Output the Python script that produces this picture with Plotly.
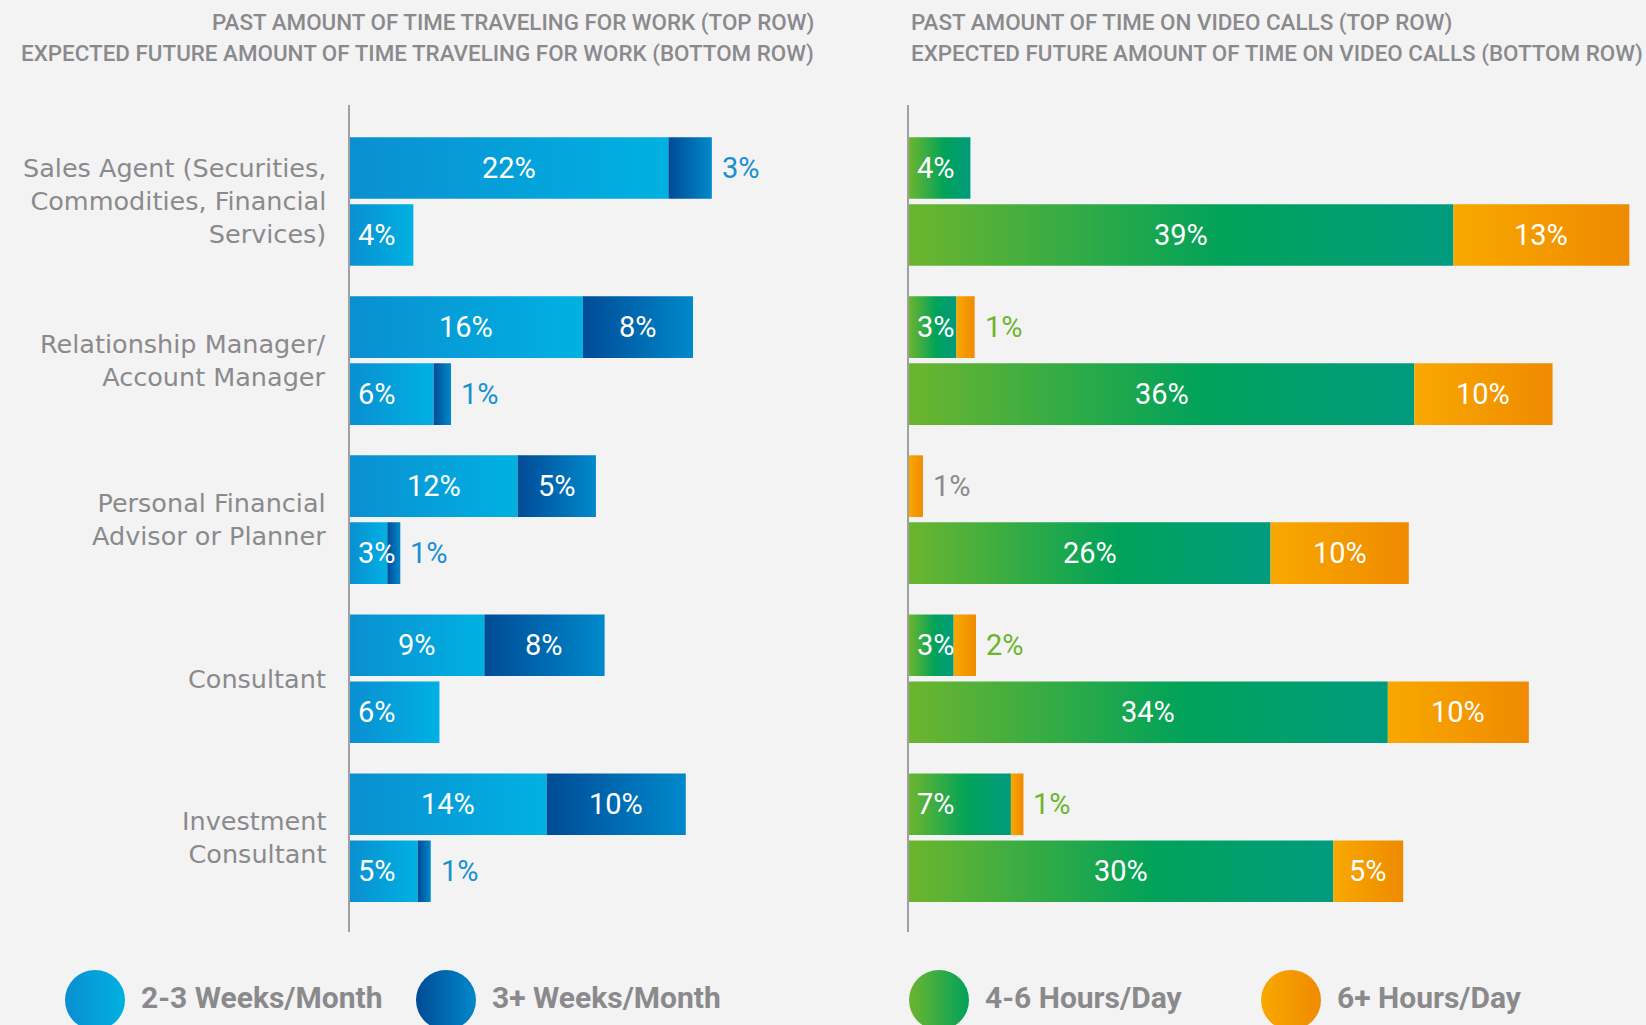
import plotly.graph_objects as go

# ---------------- data ----------------
categories = [
    "Sales Agent (Securities,<br>Commodities, Financial<br>Services)",
    "Relationship Manager/<br>Account Manager",
    "Personal Financial<br>Advisor or Planner",
    "Consultant",
    "Investment<br>Consultant",
]

left_title_lines = ["PAST AMOUNT OF TIME TRAVELING FOR WORK (TOP ROW)",
                    "EXPECTED FUTURE AMOUNT OF TIME TRAVELING FOR WORK (BOTTOM ROW)"]
right_title_lines = ["PAST AMOUNT OF TIME ON VIDEO CALLS (TOP ROW)",
                     "EXPECTED FUTURE AMOUNT OF TIME ON VIDEO CALLS (BOTTOM ROW)"]

travel_series = ["2-3 Weeks/Month", "3+ Weeks/Month"]
video_series = ["4-6 Hours/Day", "6+ Hours/Day"]

# travel for work (%), top row = past, bottom row = expected future
travel_2_3_past = [22.0, 16.1, 11.6, 9.3, 13.6]
travel_3p_past = [3.0, 7.6, 5.4, 8.3, 9.6]
travel_2_3_future = [4.4, 5.8, 2.6, 6.2, 4.7]
travel_3p_future = [0.0, 1.2, 0.9, 0.0, 0.9]

# video calls (%), top row = past, bottom row = expected future
video_4_6_past = [4.4, 3.4, 0.0, 3.2, 7.3]
video_6p_past = [0.0, 1.3, 1.0, 1.6, 0.9]
video_4_6_future = [39.0, 36.2, 25.9, 34.3, 30.4]
video_6p_future = [12.6, 9.9, 9.9, 10.1, 5.0]

# ---------------- style ----------------
BG = "#f3f3f3"
GRAY = "#8a8a8d"
LIGHT_BLUE = [[0, "#0a8fd0"], [1, "#00b1e2"]]
DARK_BLUE = [[0, "#004b96"], [1, "#0089cb"]]
GREEN = [[0, "#6cb52e"], [0.58, "#00a25a"], [1, "#009b7e"]]
ORANGE = [[0, "#f8a800"], [1, "#ef8a00"]]
BLUE_TXT = "#1a8fd0"
GREEN_TXT = "#6cb52e"

W, H = 1646, 1025
GROUP_STEP = 2.374
BAR_H = 0.92
LABEL_FONT = "Roboto, Arial, sans-serif"
CAT_FONT = "DejaVu Sans, Open Sans, sans-serif"

fig = go.Figure()
annotations = []


def add_segment(x0, x1, yc, cs, xa, ya):
    h = BAR_H / 2
    fig.add_trace(go.Scatter(
        x=[x0, x1, x1, x0, x0],
        y=[yc - h, yc - h, yc + h, yc + h, yc - h],
        mode="lines", line=dict(width=0), fill="toself",
        fillgradient=dict(type="horizontal", colorscale=cs),
        hoverinfo="skip", showlegend=False, xaxis=xa, yaxis=ya,
    ))


def add_label(text, x, yc, xa, ya, anchor, shift, color):
    annotations.append(dict(
        text=text, x=x, y=yc, xref=xa, yref=ya, xanchor=anchor, yanchor="middle",
        xshift=shift, showarrow=False,
        font=dict(family=LABEL_FONT, size=29, color=color),
    ))


def draw_panel(first_rows, second_rows, cs1, cs2, xa, ya, out_color):
    for r, (firsts, seconds) in enumerate(zip(first_rows, second_rows)):
        for g, (a, b) in enumerate(zip(firsts, seconds)):
            yc = g * GROUP_STEP + r
            if a > 0:
                add_segment(0, a, yc, cs1, xa, ya)
                if a >= 8:
                    add_label(f"{round(a)}%", a / 2, yc, xa, ya, "center", 0, "white")
                else:
                    add_label(f"{round(a)}%", 0, yc, xa, ya, "left", 6, "white")
            if b > 0:
                add_segment(a, a + b, yc, cs2, xa, ya)
                if b >= 4:
                    add_label(f"{round(b)}%", a + b / 2, yc, xa, ya, "center", 0, "white")
                else:
                    col = out_color if a > 0 else GRAY
                    add_label(f"{round(b)}%", a + b, yc, xa, ya, "left", 8, col)


draw_panel([travel_2_3_past, travel_2_3_future], [travel_3p_past, travel_3p_future],
           LIGHT_BLUE, DARK_BLUE, "x", "y", BLUE_TXT)
draw_panel([video_4_6_past, video_4_6_future], [video_6p_past, video_6p_future],
           GREEN, ORANGE, "x2", "y2", GREEN_TXT)

# category labels (centred on each pair of rows)
for g, cat in enumerate(categories):
    annotations.append(dict(
        text=cat, x=328 / W, y=g * GROUP_STEP + 0.5, xref="paper", yref="y",
        xanchor="right", yanchor="middle", align="right", showarrow=False,
        font=dict(family=CAT_FONT, size=25.5, color=GRAY),
    ))

# panel titles (one annotation per line for exact spacing)
title_y = [1 - 22 / H, 1 - 53.5 / H]
for line, ty in zip(left_title_lines, title_y):
    annotations.append(dict(
        text=line, x=816 / W, y=ty, xref="paper", yref="paper",
        xanchor="right", yanchor="middle", showarrow=False,
        font=dict(family=LABEL_FONT, size=22.4, color=GRAY, weight=500),
    ))
for line, ty in zip(right_title_lines, title_y):
    annotations.append(dict(
        text=line, x=909 / W, y=ty, xref="paper", yref="paper",
        xanchor="left", yanchor="middle", showarrow=False,
        font=dict(family=LABEL_FONT, size=22.4, color=GRAY, weight=500),
    ))

# custom legend (gradient circles + text)
legend_names = travel_series + video_series
legend_start = ["#0a8fd0", "#004b96", "#6cb52e", "#f8a800"]
legend_end = ["#00b1e2", "#0089cb", "#00a25a", "#ef8a00"]
legend_x = [95 / W, 446 / W, 939 / W, 1291 / W]
legend_y = 25 / H
for name, c0, c1, lx in zip(legend_names, legend_start, legend_end, legend_x):
    fig.add_trace(go.Scatter(
        x=[lx], y=[legend_y], mode="markers", xaxis="x3", yaxis="y3",
        marker=dict(size=60, color=c0, line=dict(width=0),
                    gradient=dict(type="horizontal", color=c1)),
        cliponaxis=False, hoverinfo="skip", showlegend=False,
    ))
    annotations.append(dict(
        text=f"<b>{name}</b>", x=lx + 44 / W, y=1 - 997 / H, xref="paper", yref="paper",
        xanchor="left", yanchor="middle", showarrow=False,
        font=dict(family=LABEL_FONT, size=30, color=GRAY),
    ))

y_dom = [1 - 932 / H, 1 - 105 / H]
y_rng = [4 * GROUP_STEP + 1 + 0.906, -0.94]
axis_common = dict(showgrid=False, zeroline=False, showticklabels=False, ticks="")
fig.update_layout(
    width=W, height=H,
    margin=dict(l=0, r=0, t=0, b=0),
    paper_bgcolor=BG, plot_bgcolor="rgba(0,0,0,0)",
    showlegend=False,
    xaxis=dict(domain=[349.6 / W, (349.6 + 30 * 14.49) / W], range=[0, 30], **axis_common),
    xaxis2=dict(domain=[909 / W, (909 + 52 * 13.96) / W], range=[0, 52], **axis_common),
    yaxis=dict(domain=y_dom, range=y_rng, anchor="x", showline=True,
               linecolor="#a0a0a0", linewidth=1.5, **axis_common),
    yaxis2=dict(domain=y_dom, range=y_rng, anchor="x2", showline=True,
                linecolor="#a0a0a0", linewidth=1.5, **axis_common),
    xaxis3=dict(domain=[0, 1], range=[0, 1], visible=False, anchor="y3"),
    yaxis3=dict(domain=[0, 1], range=[0, 1], visible=False, anchor="x3"),
    annotations=annotations,
)

fig.write_html("out.html", config={"displayModeBar": False},
               post_script="document.body.style.margin='0';document.body.style.background='#f3f3f3';")
